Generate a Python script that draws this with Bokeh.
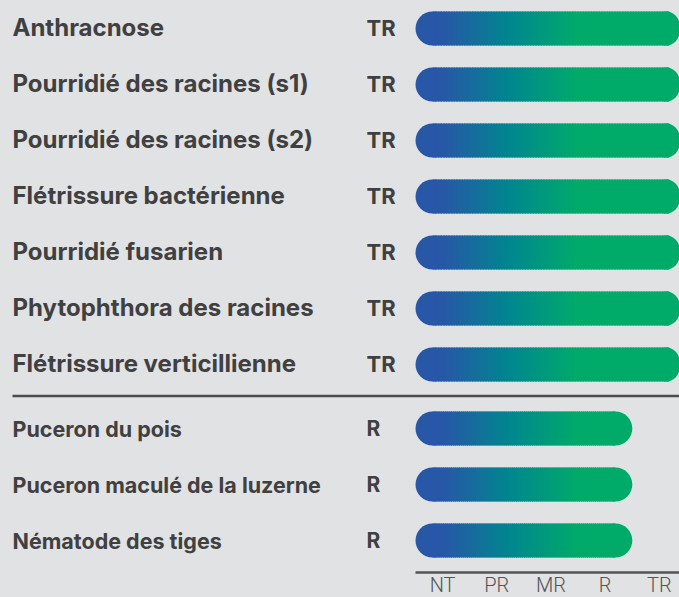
import numpy as np
from bokeh.plotting import figure
from bokeh.models import ColumnDataSource, Range1d, GlobalInlineStyleSheet
from bokeh.core.properties import value
from bokeh.embed import file_html
from bokeh.resources import INLINE

# ---- data ----
diseases = [
    "Anthracnose",
    "Pourridié des racines (s1)",
    "Pourridié des racines (s2)",
    "Flétrissure bactérienne",
    "Pourridié fusarien",
    "Phytophthora des racines",
    "Flétrissure verticillienne",
]
disease_ratings = ["TR", "TR", "TR", "TR", "TR", "TR", "TR"]

pests = [
    "Puceron du pois",
    "Puceron maculé de la luzerne",
    "Nématode des tiges",
]
pest_ratings = ["R", "R", "R"]

scale_labels = ["NT", "PR", "MR", "R", "TR"]

# ---- layout constants (pixels) ----
W, H = 679, 597
BG = "#e1e2e4"
TEXT = "#404040"
CELL = 54.2          # px per scale step
X0 = 415             # px where the scale starts
AXIS_Y = 572         # px of the scale line
BAR_H = 34
RAD = BAR_H // 2

def px2x(px):
    return (px - X0) / CELL

p = figure(width=W, height=H, output_backend="svg", toolbar_location=None,
           x_range=Range1d(px2x(0), px2x(W)), y_range=Range1d(H, 0),
           min_border=0, background_fill_color=BG,
           border_fill_color=BG, outline_line_color=None,
           x_axis_location=None, y_axis_location=None)
p.stylesheets = [GlobalInlineStyleSheet(css=f"body{{margin:0 !important;background:{BG};}}")]
p.grid.visible = False

# rows
up_y = [28 + 56 * i for i in range(len(diseases))]
low_y = [428 + 56 * j for j in range(len(pests))]

# gradient stops (in scale units)
stop_x = [0.5, 1.75, 3.0]
stop_c = [(0x28, 0x57, 0xa8), (0x00, 0x87, 0x8f), (0x00, 0xab, 0x6a)]

def grad(x):
    r = np.interp(x, stop_x, [c[0] for c in stop_c])
    g = np.interp(x, stop_x, [c[1] for c in stop_c])
    b = np.interp(x, stop_x, [c[2] for c in stop_c])
    return "#%02x%02x%02x" % (int(round(r)), int(round(g)), int(round(b)))

r_units = RAD / CELL

def draw_bars(ys, ratings):
    vals = [scale_labels.index(r) + 1 for r in ratings]
    cap_l = dict(left=[], right=[], y=[], color=[])
    cap_r = dict(left=[], right=[], y=[], color=[])
    strips = dict(left=[], right=[], y=[], color=[])
    n = 90
    for y, v in zip(ys, vals):
        cap_l["left"].append(0); cap_l["right"].append(2 * r_units)
        cap_l["y"].append(y); cap_l["color"].append(grad(0))
        cap_r["left"].append(v - 2 * r_units); cap_r["right"].append(v)
        cap_r["y"].append(y); cap_r["color"].append(grad(v - r_units))
        edges = np.linspace(r_units, v - r_units, n + 1)
        step = edges[1] - edges[0]
        for a, b in zip(edges[:-1], edges[1:]):
            strips["left"].append(a); strips["right"].append(min(b + step * 0.6, v - r_units))
            strips["y"].append(y); strips["color"].append(grad((a + b) / 2))
    p.hbar(source=ColumnDataSource(cap_l), y="y", left="left", right="right",
           height=BAR_H, fill_color="color", line_color=None, border_radius=RAD)
    p.hbar(source=ColumnDataSource(cap_r), y="y", left="left", right="right",
           height=BAR_H, fill_color="color", line_color=None, border_radius=RAD)
    p.hbar(source=ColumnDataSource(strips), y="y", left="left", right="right",
           height=BAR_H, fill_color="color", line_color=None)

draw_bars(up_y, disease_ratings)
draw_bars(low_y, pest_ratings)

# labels
p.text(x=[px2x(12)] * len(diseases), y=[y - 1 for y in up_y], text=diseases,
       text_font=value("Inter"), text_font_style="bold", text_font_size="24px",
       text_color=TEXT, text_baseline="middle", text_align="left")
p.text(x=[px2x(366)] * len(diseases), y=[y - 1 for y in up_y], text=disease_ratings,
       text_font=value("Inter"), text_font_style="bold", text_font_size="22px",
       text_color=TEXT, text_baseline="middle", text_align="left")
p.text(x=[px2x(12)] * len(pests), y=low_y, text=pests,
       text_font=value("Inter"), text_font_style="bold", text_font_size="21.5px",
       text_color=TEXT, text_baseline="middle", text_align="left")
p.text(x=[px2x(366)] * len(pests), y=low_y, text=pest_ratings,
       text_font=value("Inter"), text_font_style="bold", text_font_size="21px",
       text_color=TEXT, text_baseline="middle", text_align="left")

# separator
p.segment(x0=[px2x(12)], x1=[px2x(W)], y0=[395.5], y1=[395.5],
          line_color="#4d4d4d", line_width=2.5)

# scale (axis) line and labels
p.segment(x0=[0], x1=[len(scale_labels)], y0=[AXIS_Y], y1=[AXIS_Y],
          line_color="#555555", line_width=2.5)
p.text(x=[i + 0.5 for i in range(len(scale_labels))], y=[AXIS_Y + 12] * len(scale_labels),
       text=scale_labels, text_font=value("Roboto Light"), text_font_size="20px",
       text_color="#555555", text_baseline="middle", text_align="center")

open("out.html", "w").write(file_html(p, INLINE))
